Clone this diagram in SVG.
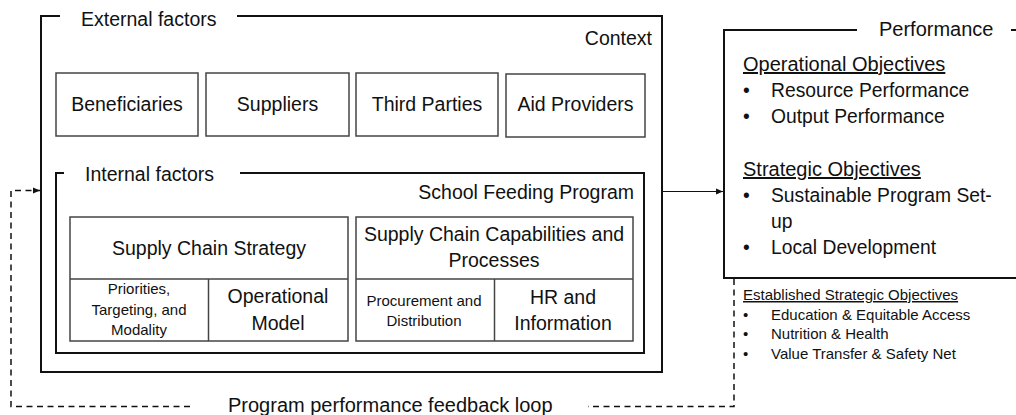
<svg xmlns="http://www.w3.org/2000/svg" width="1016" height="415" viewBox="0 0 1016 415">
<style>
text{font-family:"Liberation Sans",Arial,sans-serif;fill:#111;}
.t{font-size:19.5px;}
.s{font-size:15px;}
.p{font-size:20px;}
.b{font-size:19.3px;}
.m{text-anchor:middle;}
.e{text-anchor:end;}
.u{text-decoration:underline;}
.frame{fill:none;stroke:#111;stroke-width:2;}
.box{fill:#fff;stroke:#444;stroke-width:1.5;}
.div{stroke:#444;stroke-width:1.5;}
.dash{fill:none;stroke:#111;stroke-width:1.5;stroke-dasharray:6 4.5;}
</style>
<defs>
<marker id="ah" markerWidth="8" markerHeight="8" refX="7" refY="4" orient="auto" markerUnits="userSpaceOnUse">
<path d="M0,1 L7,4 L0,7 z" fill="#111"/>
</marker>
</defs>
<rect width="1016" height="415" fill="#fff"/>

<g id="context">
<path class="frame" d="M60,16 H41 V372 H662 V16 H237"/>
<text class="t" x="81" y="26">External factors</text>
<text class="t e" x="652" y="45">Context</text>
</g>

<g id="beneficiaries"><rect class="box" x="56" y="73" width="142" height="63"/><text class="t m" x="127" y="111">Beneficiaries</text></g>
<g id="suppliers"><rect class="box" x="206" y="73" width="143" height="63"/><text class="t m" x="277.5" y="111">Suppliers</text></g>
<g id="third-parties"><rect class="box" x="356" y="73" width="142" height="63"/><text class="t m" x="427" y="111">Third Parties</text></g>
<g id="aid-providers"><rect class="box" x="506" y="74" width="139" height="63"/><text class="t m" x="575.5" y="111">Aid Providers</text></g>

<g id="internal">
<path class="frame" d="M64,173 H56 V353 H644 V173 H240" stroke-width="2.5"/>
<text class="t" x="85" y="181">Internal factors</text>
<text class="t e" x="634" y="199">School Feeding Program</text>
</g>

<g id="strategy">
<rect class="box" x="70" y="217" width="278" height="124"/>
<line class="div" x1="70" y1="279" x2="348" y2="279"/>
<line class="div" x1="208.5" y1="279" x2="208.5" y2="341"/>
<text class="t m" x="209" y="255">Supply Chain Strategy</text>
<text class="s m" x="139" y="294">Priorities,</text>
<text class="s m" x="139" y="315">Targeting, and</text>
<text class="s m" x="139" y="335">Modality</text>
<text class="t m" x="278" y="303">Operational</text>
<text class="t m" x="278" y="330">Model</text>
</g>

<g id="capabilities">
<rect class="box" x="356" y="217" width="277" height="124"/>
<line class="div" x1="356" y1="279" x2="633" y2="279"/>
<line class="div" x1="494.5" y1="279" x2="494.5" y2="341"/>
<text class="t m" x="494" y="241">Supply Chain Capabilities and</text>
<text class="t m" x="494" y="267">Processes</text>
<text class="s m" x="424" y="306">Procurement and</text>
<text class="s m" x="424" y="326">Distribution</text>
<text class="t m" x="563" y="304">HR and</text>
<text class="t m" x="563" y="330">Information</text>
</g>

<g id="performance">
<path class="frame" d="M857,30 H724 V278 H1020 M1011,30 H1020"/>
<text class="p" x="879" y="36">Performance</text>
<text class="p u" x="743" y="71">Operational Objectives</text>
<text class="b" x="743" y="97">•</text><text class="b" x="771" y="97">Resource Performance</text>
<text class="b" x="743" y="123">•</text><text class="b" x="771" y="123">Output Performance</text>
<text class="p u" x="743" y="176">Strategic Objectives</text>
<text class="b" x="743" y="202">•</text><text class="b" x="771" y="202">Sustainable Program Set-</text>
<text class="b" x="771" y="228">up</text>
<text class="b" x="743" y="254">•</text><text class="b" x="771" y="254">Local Development</text>
</g>

<g id="established">
<text class="s u" x="743" y="300">Established Strategic Objectives</text>
<text class="s" x="743" y="320">•</text><text class="s" x="771" y="320">Education &amp; Equitable Access</text>
<text class="s" x="743" y="339">•</text><text class="s" x="771" y="339">Nutrition &amp; Health</text>
<text class="s" x="743" y="359">•</text><text class="s" x="771" y="359">Value Transfer &amp; Safety Net</text>
</g>

<g id="connectors">
<line x1="662" y1="191.5" x2="723" y2="191.5" stroke="#111" stroke-width="1" marker-end="url(#ah)"/>
<path class="dash" d="M734,279 V406.5 H588"/>
<path class="dash" d="M190,406.5 H11 V190.5 H40" marker-end="url(#ah)"/>
<text class="p" x="228" y="412">Program performance feedback loop</text>
</g>
</svg>
